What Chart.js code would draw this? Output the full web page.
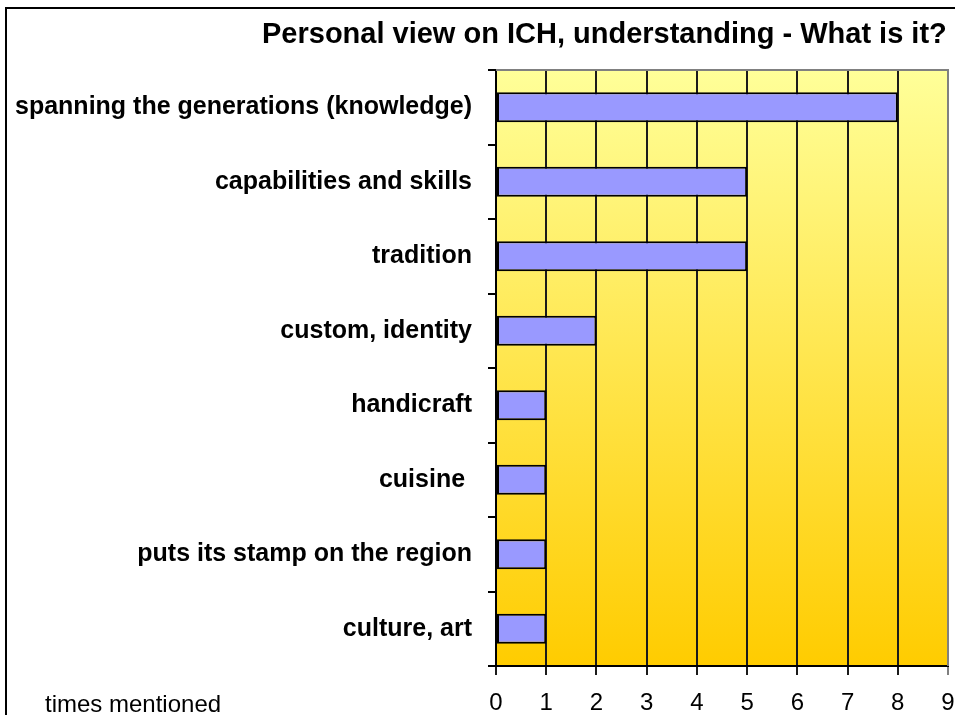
<!DOCTYPE html>
<html>
<head>
<meta charset="utf-8">
<script src="https://cdn.jsdelivr.net/npm/chart.js@4/dist/chart.umd.min.js"></script>
<style>
  html, body { margin: 0; padding: 0; background: #fff; }
  #wrap { width: 955px; height: 715px; position: relative; }
</style>
</head>
<body>
<div id="wrap"><canvas id="c" width="955" height="715"></canvas></div>
<script>
const titleText = "Personal view on ICH, understanding - What is it?";
const axisNote = "times mentioned";
const categories = [
  "spanning the generations (knowledge)",
  "capabilities and skills",
  "tradition",
  "custom, identity",
  "handicraft",
  "cuisine ",
  "puts its stamp on the region",
  "culture, art"
];
const mentions = [8, 5, 5, 2, 1, 1, 1, 1];
const xMin = 0;
const xMax = 9;

const FONT = "'Liberation Sans', Arial, Helvetica, sans-serif";

const decor = {
  id: 'decor',
  beforeDraw(chart) {
    const { ctx, chartArea: a } = chart;
    ctx.save();
    const g = ctx.createLinearGradient(0, a.top, 0, a.bottom);
    g.addColorStop(0, '#FFFF99');
    g.addColorStop(1, '#FFCC00');
    ctx.fillStyle = g;
    ctx.fillRect(a.left, a.top, a.right - a.left, a.bottom - a.top);
    ctx.restore();
  },
  afterDraw(chart) {
    const { ctx, chartArea: a } = chart;
    ctx.save();
    ctx.strokeStyle = '#808080';
    ctx.lineWidth = 2;
    ctx.beginPath();
    ctx.moveTo(a.left, a.top);
    ctx.lineTo(a.right, a.top);
    ctx.lineTo(a.right, a.bottom);
    ctx.stroke();
    ctx.strokeStyle = '#000';
    ctx.lineWidth = 2;
    ctx.strokeRect(6, 8, 1200, 1200);
    ctx.fillStyle = '#000';
    ctx.font = 'bold 29px ' + FONT;
    ctx.textAlign = 'left';
    ctx.textBaseline = 'alphabetic';
    ctx.fillText(titleText, 262, 43);
    ctx.font = '24px ' + FONT;
    ctx.fillText(axisNote, 45, 712);
    ctx.restore();
  }
};

new Chart(document.getElementById('c'), {
  type: 'bar',
  data: {
    labels: categories,
    datasets: [{
      data: mentions,
      backgroundColor: '#9999FF',
      borderColor: '#000000',
      borderWidth: 2,
      borderSkipped: false,
      barPercentage: 0.4,
      categoryPercentage: 1.0
    }]
  },
  options: {
    indexAxis: 'y',
    responsive: false,
    animation: false,
    devicePixelRatio: 1,
    layout: { padding: { top: 70, right: 7, left: 0, bottom: 0 } },
    plugins: {
      legend: { display: false },
      title: { display: false },
      tooltip: { enabled: false }
    },
    scales: {
      x: {
        type: 'linear',
        position: 'bottom',
        min: xMin,
        max: xMax,
        ticks: {
          stepSize: 1,
          color: '#000',
          font: { family: FONT, size: 24 },
          padding: 14,
          maxRotation: 0
        },
        grid: {
          drawOnChartArea: true,
          drawTicks: true,
          tickLength: 9,
          lineWidth: 2,
          color: (c) => (c.tick && c.tick.value === xMax) ? '#808080' : '#1a1a1a'
        },
        border: { display: true, color: '#000', width: 2 },
        afterFit(scale) {
          scale.height = 49;
          scale.paddingRight = 0;
          scale.paddingLeft = 0;
        }
      },
      y: {
        type: 'category',
        position: 'left',
        ticks: {
          color: '#000',
          font: { family: FONT, size: 25, weight: 'bold' },
          padding: 16,
          autoSkip: false
        },
        grid: {
          offset: true,
          drawOnChartArea: false,
          drawTicks: true,
          tickLength: 8,
          lineWidth: 2,
          color: '#000'
        },
        border: { display: true, color: '#000', width: 2 },
        afterFit(scale) {
          scale.width = 496;
          scale.paddingTop = 0;
          scale.paddingBottom = 0;
        }
      }
    }
  },
  plugins: [decor]
});
</script>
</body>
</html>
